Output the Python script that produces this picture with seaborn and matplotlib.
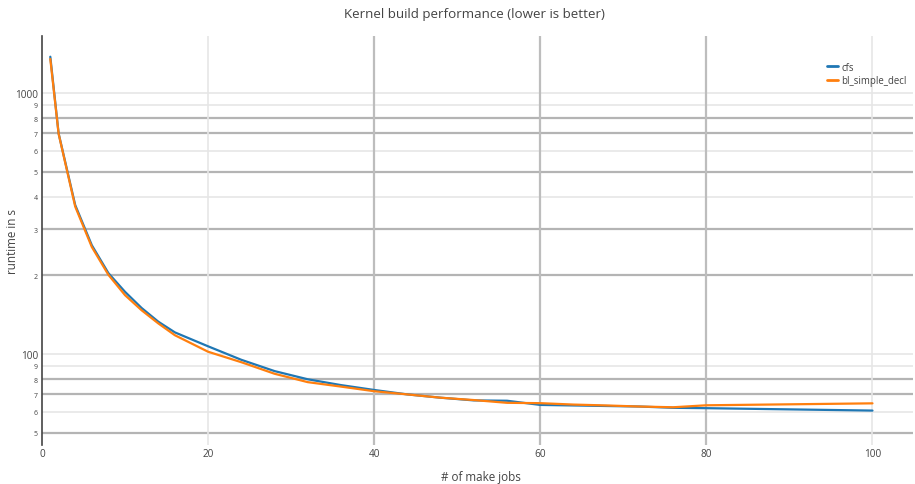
import numpy as np
import pandas as pd
import seaborn as sns
import matplotlib.pyplot as plt
from matplotlib.ticker import FixedLocator, FixedFormatter, NullLocator

# values
jobs = [1, 2, 4, 6, 8, 10, 12, 14, 16, 20, 24, 28, 32, 36, 40, 44, 48,
        52, 56, 60, 64, 68, 72, 76, 80, 100]
cfs = [1377, 700, 372, 261, 204, 173, 150, 133, 121, 107, 95, 86, 80, 76,
       72.8, 70, 68, 66.4, 66.2, 63.8, 63.5, 63.2, 62.9, 62.2, 62, 60.7]
bl_simple_decl = [1350, 698, 367, 257, 201, 168, 147, 131, 118, 102, 93, 84,
                  78, 75, 72, 70, 68, 66.6, 65, 64.8, 64, 63.5, 62.9, 62.5,
                  63.6, 64.7]
series_names = ['cfs', 'bl_simple_decl']
series_colors = ['#1f77b4', '#ff7f0e']

y_major = [100, 1000]
y_minor = [50, 60, 70, 80, 90, 200, 300, 400, 500, 600, 700, 800, 900]
x_ticks = [0, 20, 40, 60, 80, 100]
# the reference draws some gridlines darker than others
y_grid_dark = [50, 70, 80, 200, 300, 500, 700, 800]
y_grid_light = [60, 90, 100, 400, 600, 900, 1000]
x_grid_dark = [40, 60, 80]
x_grid_light = [20, 100]

df = pd.DataFrame({
    'jobs': jobs * 2,
    'runtime': cfs + bl_simple_decl,
    'kernel': [series_names[0]] * len(jobs) + [series_names[1]] * len(jobs),
})

sns.set_theme(style='white')
plt.rcParams['font.family'] = ['Open Sans', 'DejaVu Sans']

fig = plt.figure(figsize=(9.15, 4.85), dpi=100)
ax = fig.add_axes([0.0459, 0.0804, 0.998 - 0.0459, 0.9237 - 0.0804])

for v in y_grid_light:
    ax.axhline(v, color='#e6e6e6', lw=1.2, zorder=0)
for v in y_grid_dark:
    ax.axhline(v, color='#b4b4b4', lw=1.6, zorder=0)
for v in x_grid_light:
    ax.axvline(v, color='#e6e6e6', lw=1.2, zorder=0)
for v in x_grid_dark:
    ax.axvline(v, color='#bdbdbd', lw=1.6, zorder=0)

sns.lineplot(data=df, x='jobs', y='runtime', hue='kernel',
             palette=dict(zip(series_names, series_colors)),
             linewidth=1.6, ax=ax, zorder=3)

ax.set_yscale('log')
ax.set_xlim(0, 104.9)
ax.set_ylim(44.8, 1653)

ax.yaxis.set_major_locator(FixedLocator(y_major))
ax.yaxis.set_major_formatter(FixedFormatter([str(v) for v in y_major]))
ax.yaxis.set_minor_locator(FixedLocator(y_minor))
ax.yaxis.set_minor_formatter(FixedFormatter([str(v)[0] for v in y_minor]))
ax.xaxis.set_major_locator(FixedLocator(x_ticks))
ax.xaxis.set_minor_locator(NullLocator())

ax.tick_params(axis='both', which='both', length=0, colors='#444444')
ax.tick_params(axis='y', which='major', labelsize=7.2, pad=3)
ax.tick_params(axis='y', which='minor', labelsize=5, pad=3)
ax.tick_params(axis='x', which='major', labelsize=7.2, pad=2)

for side in ['top', 'right', 'bottom']:
    ax.spines[side].set_visible(False)
ax.spines['left'].set_color('#444444')
ax.spines['left'].set_linewidth(1.2)

ax.set_xlabel('# of make jobs', fontsize=8.4, color='#444444')
ax.set_ylabel('runtime in s', fontsize=8.4, color='#444444')
ax.xaxis.set_label_coords(0.504, -0.078)
ax.xaxis.label.set_verticalalignment('center')
ax.yaxis.set_label_coords(-0.0344, 0.5)
ax.yaxis.label.set_verticalalignment('center')
fig.suptitle('Kernel build performance (lower is better)', fontsize=9.6,
             color='#444444', x=0.519, y=0.983)

leg = ax.legend(loc='upper right', bbox_to_anchor=(0.997, 0.947), frameon=False,
                fontsize=6.9, handlelength=1.2, handletextpad=0.3,
                labelspacing=0.25, borderaxespad=0)
for t in leg.get_texts():
    t.set_color('#444444')
for ln in leg.get_lines():
    ln.set_linewidth(2)

fig.savefig('out.png', dpi=100)
